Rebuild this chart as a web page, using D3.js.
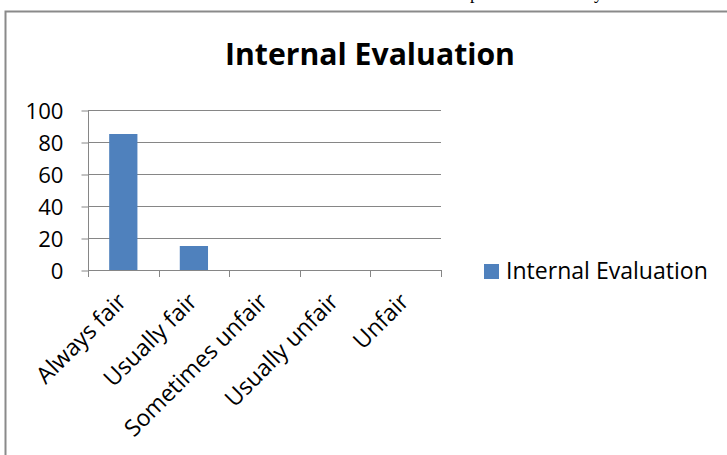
<!DOCTYPE html>
<html>
<head>
<meta charset="utf-8">
<script src="https://cdn.jsdelivr.net/npm/d3@7"></script>
<style>
  html, body { margin: 0; padding: 0; background: #fff; }
  svg { display: block; }
  text { font-variant-ligatures: none; }
</style>
</head>
<body>
<svg id="chart" width="727" height="455"></svg>
<script>
const categories = ["Always fair", "Usually fair", "Sometimes unfair", "Usually unfair", "Unfair"];
const values = [85, 15, 0, 0, 0];
const seriesName = "Internal Evaluation";
const chartTitle = "Internal Evaluation";
const yTicks = [0, 20, 40, 60, 80, 100];

const svg = d3.select("#chart");
const font = "'Open Sans', 'Noto Sans', sans-serif";
const gridColor = "#868686";
const barColor = "#4F81BD";

function fit(sel, target) {
  const base = 20;
  sel.attr("font-size", base);
  const w = sel.node().getComputedTextLength();
  return base * target / w;
}

// fragments of the document text line above the chart (only descenders visible)
svg.append("text").attr("x", 470).attr("y", -1.5).attr("font-family", "'Liberation Serif', serif")
  .attr("font-size", 18).text("p");
svg.append("text").attr("x", 594).attr("y", -1.5).attr("font-family", "'Liberation Serif', serif")
  .attr("font-size", 18).text("y");

// chart frame
svg.append("rect").attr("x", 5.5).attr("y", 11.5).attr("width", 760).attr("height", 480)
  .attr("fill", "none").attr("stroke", "#8a8a8a").attr("stroke-width", 2);

const x = d3.scaleBand().domain(categories).range([88, 441]).paddingInner(0.6).paddingOuter(0.3);
const y = d3.scaleLinear().domain([0, 100]).range([270, 110]);

// gridlines
svg.append("g").selectAll("line").data(yTicks.filter(t => t > 0)).join("line")
  .attr("x1", 88).attr("x2", 441)
  .attr("y1", d => Math.round(y(d)) + 0.5).attr("y2", d => Math.round(y(d)) + 0.5)
  .attr("stroke", gridColor).attr("stroke-width", 1);

// bars
svg.append("g").selectAll("rect").data(values).join("rect")
  .attr("x", (d, i) => x(categories[i]))
  .attr("width", x.bandwidth())
  .attr("y", d => y(d))
  .attr("height", d => y(0) - y(d))
  .attr("fill", barColor);

// y axis
const yAxis = d3.axisLeft(y).tickValues(yTicks).tickSize(7).tickPadding(18).tickFormat(d3.format("d"));
const gy = svg.append("g").attr("transform", "translate(88.5,0.5)").call(yAxis);
gy.select(".domain").attr("stroke", gridColor).attr("d", `M0,${y(100)}V${y(0)}`);
gy.selectAll(".tick line").attr("stroke", gridColor);
const yText = gy.selectAll(".tick text").attr("font-family", font).attr("fill", "#000").attr("dy", null);
const yfs = fit(gy.selectAll(".tick text").filter(d => d === 100), 38);
yText.attr("font-size", yfs).attr("y", 0).attr("dy", yfs * 0.36);

// x axis
const boundary = [88].concat(categories.map((c, i) => 88 + x.step() * (i + 1)));
svg.append("line").attr("x1", 88).attr("x2", 441).attr("y1", 270.5).attr("y2", 270.5)
  .attr("stroke", gridColor);
svg.append("g").selectAll("line").data(boundary).join("line")
  .attr("x1", d => Math.round(d) + 0.5).attr("x2", d => Math.round(d) + 0.5)
  .attr("y1", 270).attr("y2", 277).attr("stroke", gridColor);

// legend
const lg = svg.append("g");
lg.append("rect").attr("x", 484).attr("y", 264).attr("width", 15).attr("height", 15).attr("fill", barColor);
const legText = lg.append("text").attr("x", 506).attr("y", 279).attr("font-family", font)
  .attr("fill", "#000").text(seriesName);
legText.attr("font-size", fit(legText, 202));

// x labels
const xl = svg.append("g").selectAll("text").data(categories).join("text")
  .attr("transform", d => `translate(${x(d) + x.bandwidth() / 2 + 4.5},${303}) rotate(-45)`)
  .attr("text-anchor", "end")
  .attr("font-family", font).attr("fill", "#000")
  .text(d => d);
const xfs = fit(xl.filter(d => d === "Always fair"), 116);
xl.attr("font-size", xfs);

// title
const title = svg.append("text").attr("x", 370).attr("y", 65).attr("text-anchor", "middle")
  .attr("font-family", font).attr("font-weight", "bold").attr("fill", "#000")
  .text(chartTitle);
title.attr("font-size", fit(title, 290));
</script>
</body>
</html>
